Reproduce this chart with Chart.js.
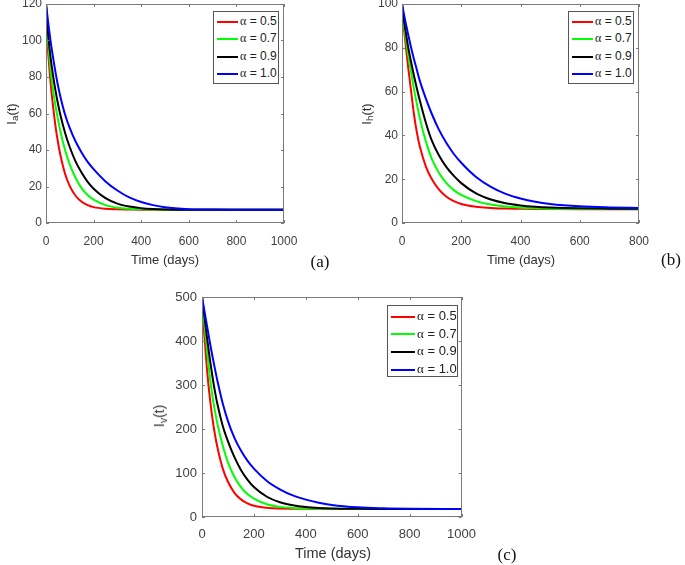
<!DOCTYPE html>
<html>
<head>
<meta charset="utf-8">
<script src="https://cdn.jsdelivr.net/npm/chart.js@4.4.0/dist/chart.umd.min.js"></script>
<style>
    body { margin: 0; background: #fff; overflow: hidden; }
    #wrap { position: relative; width: 685px; height: 565px; font-family: 'Liberation Sans', Arial, sans-serif; color: #333; }
    .plot { position: absolute; }
    .ylab { position: absolute; white-space: nowrap; transform: translate(-50%, -50%) rotate(-90deg); }
    .ylab sub { font-size: 0.75em; vertical-align: -0.3em; }
    .xlab { position: absolute; white-space: nowrap; transform: translate(-50%, -50%); }
    .tag { position: absolute; font-family: 'Liberation Serif', 'DejaVu Serif', serif; font-size: 17px; color: #111; transform: translate(-50%, -50%); }
    .legend { position: absolute; background: #fff; border: 1px solid #555; box-sizing: border-box; color: #222; }
    .legend-item { position: absolute; left: 0; white-space: nowrap; }
    .legend-line { display: inline-block; height: 0; border-top: 2px solid; vertical-align: middle; margin: 0 2px 0 3px; }
    .alpha { font-family: 'Liberation Serif', 'DejaVu Serif', serif; }
</style>
</head>
<body>
<div id="wrap">
    <canvas id="chart-a" class="plot" width="330" height="270" style="left:0px; top:-10px;"></canvas>
    <canvas id="chart-b" class="plot" width="329" height="270" style="left:356px; top:-10px;"></canvas>
    <canvas id="chart-c" class="plot" width="330" height="270" style="left:156px; top:283px;"></canvas>

    <div class="ylab" style="left:12px; top:114px; font-size:13px;">I<sub>a</sub>(t)</div>
    <div class="xlab" style="left:165px; top:259px; font-size:13px;">Time (days)</div>
    <div class="tag" style="left:320px; top:262px;">(a)</div>

    <div class="ylab" style="left:367px; top:114px; font-size:13px;">I<sub>h</sub>(t)</div>
    <div class="xlab" style="left:521px; top:259px; font-size:13px;">Time (days)</div>
    <div class="tag" style="left:671px; top:260px;">(b)</div>

    <div class="ylab" style="left:160px; top:416px; font-size:14px;">I<sub>v</sub>(t)</div>
    <div class="xlab" style="left:333px; top:553px; font-size:14.5px;">Time (days)</div>
    <div class="tag" style="left:507px; top:555px;">(c)</div>

    <div id="legend-a" class="legend" style="left:213px; top:11px; width:66px; height:73px; font-size:12px;"></div>
    <div id="legend-b" class="legend" style="left:568px; top:11px; width:66px; height:73px; font-size:12px;"></div>
    <div id="legend-c" class="legend" style="left:387px; top:305px; width:71px; height:72px; font-size:13px;"></div>
</div>

<script>
// Datos
const alphaLabels = ['0.5', '0.7', '0.9', '1.0'];
const alphaColors = ['#ff0000', '#00ff00', '#000000', '#0000ff'];

// (a) I_a(t), 0..1000 días
const timeA = [0, 5, 10, 20, 30, 40, 50, 60, 80, 100, 125, 150, 175, 200, 250, 300, 350, 400, 450, 500, 600, 700, 800, 1000];
const iaAlpha05 = [120, 102, 92, 76, 63.5, 53, 44.5, 37.5, 27, 20.2, 14.8, 11.6, 9.8, 8.7, 7.8, 7.5, 7.4, 7.3, 7.3, 7.3, 7.3, 7.3, 7.3, 7.3];
const iaAlpha07 = [120, 106, 97.5, 83, 72.5, 64, 57, 50.5, 40, 32, 24.5, 19, 15.3, 12.8, 9.8, 8.4, 7.8, 7.5, 7.4, 7.3, 7.3, 7.3, 7.3, 7.3];
const iaAlpha09 = [120, 109.5, 102, 90, 80.5, 72.5, 65.5, 59.5, 49.5, 41.5, 33.5, 27.5, 22.5, 18.8, 13.6, 10.6, 9, 8.1, 7.65, 7.45, 7.3, 7.3, 7.3, 7.3];
const iaAlpha10 = [120, 114.5, 109, 99, 90.5, 82.5, 75.5, 69.5, 59.5, 52, 44.5, 38.5, 33.5, 29.5, 22.8, 17.8, 14, 11.5, 9.8, 8.6, 7.6, 7.35, 7.3, 7.3];

// (b) I_h(t), 0..800 días
const timeB = [0, 5, 10, 20, 30, 40, 50, 60, 80, 100, 125, 150, 175, 200, 250, 300, 350, 400, 450, 500, 600, 700, 800];
const ihAlpha05 = [100, 91, 84.5, 72, 61, 50, 41.5, 35, 26, 20.2, 15.2, 12, 10, 8.7, 7.4, 6.9, 6.6, 6.5, 6.4, 6.35, 6.3, 6.3, 6.3];
const ihAlpha07 = [100, 92, 87, 77.5, 69.5, 61.5, 54.5, 48, 37.5, 29.5, 22.8, 18.2, 15, 12.8, 10, 8.4, 7.5, 7, 6.7, 6.55, 6.4, 6.35, 6.3];
const ihAlpha09 = [100, 94, 89.5, 81, 74, 67.5, 61.5, 56, 46, 37.8, 30.8, 25.5, 21.5, 18.2, 13.5, 10.7, 9, 8, 7.4, 7.05, 6.7, 6.55, 6.45];
const ihAlpha10 = [100, 96.5, 93, 86.5, 80.5, 75, 70, 65, 57, 50, 42.5, 36.5, 31.5, 27.5, 21, 16.5, 13.3, 11.2, 9.7, 8.7, 7.6, 7.1, 6.85];

// (c) I_v(t), 0..1000 días
const timeC = [0, 5, 10, 20, 30, 40, 50, 60, 80, 100, 125, 150, 175, 200, 250, 300, 350, 400, 450, 500, 600, 700, 800, 1000];
const ivAlpha05 = [500, 450, 405, 330, 272, 225, 187, 157, 110, 80, 55, 40, 31, 25.5, 21, 19.3, 18.8, 18.5, 18.4, 18.3, 18.3, 18.3, 18.3, 18.3];
const ivAlpha07 = [500, 467, 435, 375, 320, 275, 240, 210, 162, 124, 91, 68, 52, 42, 29, 23, 20.5, 19.3, 18.8, 18.5, 18.3, 18.3, 18.3, 18.3];
const ivAlpha09 = [500, 476, 453, 405, 360, 320, 285, 255, 207, 172, 136, 107, 85, 68, 46, 33.5, 26.5, 22.5, 20.5, 19.5, 18.7, 18.4, 18.3, 18.3];
const ivAlpha10 = [500, 483, 466, 432, 398, 366, 336, 308, 258, 218, 180, 151, 128, 110, 82, 63, 49, 39.5, 32.5, 27.5, 22, 19.8, 18.8, 18.3];

const FONT = "'Liberation Sans', Arial, sans-serif";

// Caja del eje con marcas hacia adentro (estilo MATLAB)
const boxPlugin = {
    id: 'axisBox',
    afterDraw(chart) {
        const { ctx, chartArea: a, scales } = chart;
        const tick = 3;
        ctx.save();
        ctx.strokeStyle = '#7a7a7a';
        ctx.lineWidth = 1;
        ctx.beginPath();
        scales.x.ticks.forEach(t => {
            const px = Math.round(scales.x.getPixelForValue(t.value)) + 0.5;
            ctx.moveTo(px, a.bottom); ctx.lineTo(px, a.bottom - tick);
            ctx.moveTo(px, a.top); ctx.lineTo(px, a.top + tick);
        });
        scales.y.ticks.forEach(t => {
            const py = Math.round(scales.y.getPixelForValue(t.value)) + 0.5;
            ctx.moveTo(a.left, py); ctx.lineTo(a.left + tick, py);
            ctx.moveTo(a.right, py); ctx.lineTo(a.right - tick, py);
        });
        ctx.stroke();
        ctx.strokeRect(Math.round(a.left) + 0.5, Math.round(a.top) + 0.5, Math.round(a.width) - 1, Math.round(a.height) - 1);
        ctx.restore();
    }
};

function buildDatasets(times, series) {
    return series.map((values, i) => ({
        label: 'α = ' + alphaLabels[i],
        data: times.map((t, k) => ({ x: t, y: values[k] })),
        borderColor: alphaColors[i],
        borderWidth: 2,
        pointRadius: 0,
        fill: false,
        cubicInterpolationMode: 'monotone',
        order: series.length - i
    }));
}

function createChart(id, times, series, opts) {
    const ctx = document.getElementById(id).getContext('2d');
    return new Chart(ctx, {
        type: 'line',
        data: { datasets: buildDatasets(times, series) },
        options: {
            responsive: false,
            animation: false,
            layout: { padding: opts.padding },
            plugins: {
                legend: { display: false },
                tooltip: { enabled: false }
            },
            scales: {
                x: {
                    type: 'linear',
                    min: 0,
                    max: opts.xMax,
                    border: { display: false },
                    grid: { display: false, drawTicks: false },
                    ticks: {
                        stepSize: 200,
                        autoSkip: false,
                        maxRotation: 0,
                        padding: opts.xPad,
                        color: '#404040',
                        font: { family: FONT, size: opts.tickSize },
                        callback: v => String(v)
                    },
                    afterFit: s => { s.height = 30; }
                },
                y: {
                    type: 'linear',
                    min: 0,
                    max: opts.yMax,
                    border: { display: false },
                    grid: { display: false, drawTicks: false },
                    ticks: {
                        stepSize: opts.yStep,
                        autoSkip: false,
                        padding: opts.yPad,
                        color: '#404040',
                        font: { family: FONT, size: opts.tickSize },
                        callback: v => String(v)
                    },
                    afterFit: s => { s.width = 46; }
                }
            }
        },
        plugins: [boxPlugin]
    });
}

// Leyenda en HTML dentro del área del gráfico
function buildLegend(id, chart, rowStep, lineWidth) {
    const legend = document.getElementById(id);
    legend.innerHTML = '';
    chart.data.datasets.forEach((ds, i) => {
        const item = document.createElement('div');
        item.className = 'legend-item';
        item.style.top = (1 + i * rowStep) + 'px';
        item.style.height = rowStep + 'px';
        item.style.lineHeight = rowStep + 'px';
        item.innerHTML = `<span class="legend-line" style="width:${lineWidth}px; border-top-color:${ds.borderColor}"></span><span class="alpha">α</span> = ${alphaLabels[i]}`;
        legend.appendChild(item);
    });
}

const chartA = createChart('chart-a', timeA, [iaAlpha05, iaAlpha07, iaAlpha09, iaAlpha10],
    { xMax: 1000, yMax: 120, yStep: 20, padding: { left: 0, top: 14, right: 46, bottom: 7 }, xPad: 11, yPad: 4, tickSize: 12 });
const chartB = createChart('chart-b', timeB, [ihAlpha05, ihAlpha07, ihAlpha09, ihAlpha10],
    { xMax: 800, yMax: 100, yStep: 20, padding: { left: 0, top: 14, right: 46, bottom: 7 }, xPad: 11, yPad: 4, tickSize: 12 });
const chartC = createChart('chart-c', timeC, [ivAlpha05, ivAlpha07, ivAlpha09, ivAlpha10],
    { xMax: 1000, yMax: 500, yStep: 100, padding: { left: 0, top: 14, right: 22, bottom: 6 }, xPad: 10, yPad: 5, tickSize: 13 });

buildLegend('legend-a', chartA, 17.4, 21);
buildLegend('legend-b', chartB, 17.4, 21);
buildLegend('legend-c', chartC, 17.7, 24);
</script>
</body>
</html>
